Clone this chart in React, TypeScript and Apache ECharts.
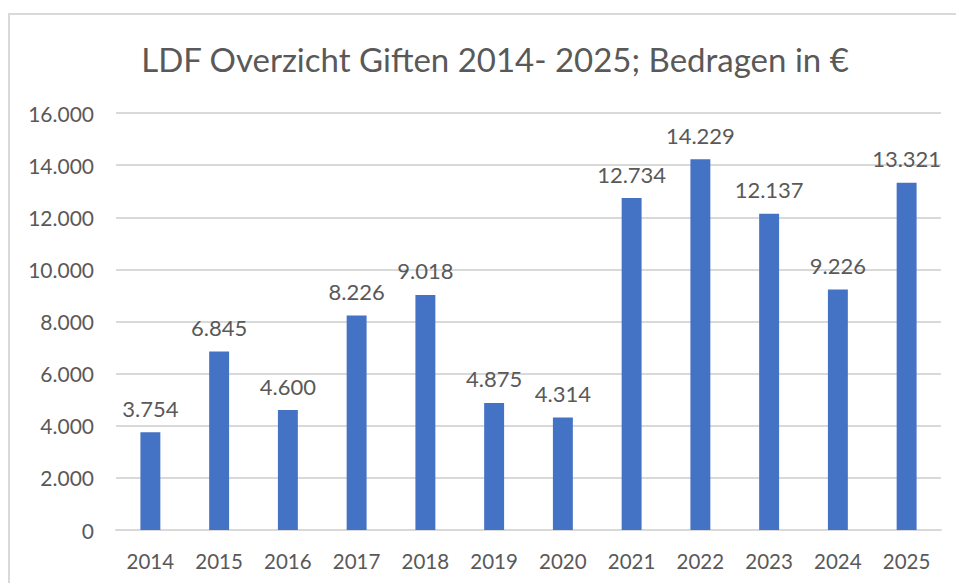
import React, { useEffect, useRef } from "react";
import * as echarts from "echarts";

const title = "LDF Overzicht Giften 2014- 2025; Bedragen in €";
const categories = ["2014", "2015", "2016", "2017", "2018", "2019", "2020", "2021", "2022", "2023", "2024", "2025"];
const values = [3754, 6845, 4600, 8226, 9018, 4875, 4314, 12734, 14229, 12137, 9226, 13321];

const fmt = (v: number) => String(Math.round(v)).replace(/\B(?=(\d{3})+(?!\d))/g, ".");

const FONT = "Lato";
const TXT = "#595959";

export default function App() {
  const ref = useRef<HTMLDivElement>(null);
  useEffect(() => {
    const chart = echarts.init(ref.current!, null, { renderer: "svg" });
    chart.setOption({
      animation: false,
      backgroundColor: "#ffffff",
      title: {
        text: title,
        left: 490,
        textAlign: "center",
        top: 37,
        textStyle: { fontFamily: FONT, fontSize: 33, fontWeight: "normal", color: TXT },
      },
      graphic: [
        {
          type: "rect",
          shape: { x: 9, y: 14, width: 980, height: 620 },
          style: { fill: "none", stroke: "#d9d9d9", lineWidth: 2 },
          silent: true,
        },
      ],
      grid: { left: 116, right: 15, top: 113, bottom: 53, containLabel: false },
      xAxis: {
        type: "category",
        data: categories,
        axisLine: { show: true, lineStyle: { color: "#d9d9d9", width: 2 } },
        axisTick: { show: false },
        axisLabel: { color: TXT, fontFamily: FONT, fontSize: 20.5, margin: 20 },
      },
      yAxis: {
        type: "value",
        min: 0,
        max: 16000,
        interval: 2000,
        axisLine: { show: false },
        axisTick: { show: false },
        splitLine: { lineStyle: { color: "#d9d9d9", width: 2 } },
        axisLabel: { color: TXT, fontFamily: FONT, fontSize: 21, margin: 22, formatter: (v: number) => fmt(v) },
      },
      series: [
        {
          type: "bar",
          data: values,
          barWidth: "29%",
          itemStyle: { color: "#4472C4" },
          label: {
            show: true,
            position: "top",
            distance: 13,
            color: TXT,
            fontFamily: FONT,
            fontSize: 22,
            formatter: (p: any) => fmt(p.value),
          },
        },
      ],
    });
    return () => chart.dispose();
  }, []);
  return <div ref={ref} style={{ position: "fixed", left: 0, top: 0, width: 956, height: 583 }} />;
}
